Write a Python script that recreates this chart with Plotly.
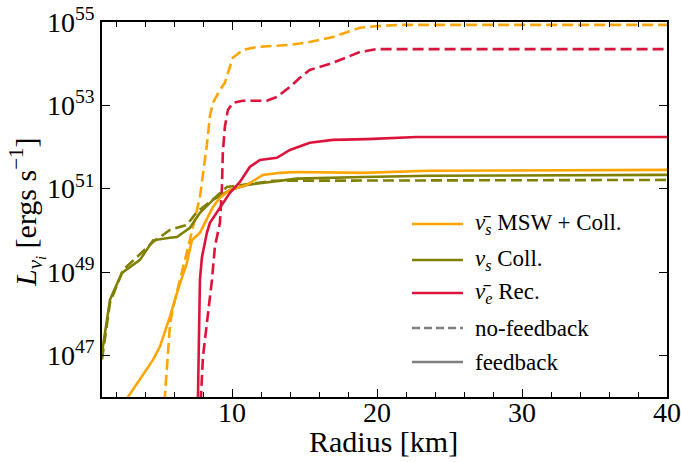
import plotly.graph_objects as go

# ---- data (Radius in km, log10 of luminosity in ergs/s) ----
msw_fb_r   = [2.5, 2.79, 4.31, 4.52, 5.0, 5.69, 6.24, 6.86, 7.21, 7.76, 8.1, 8.66, 9.14, 9.83, 11.0, 12.1, 13.28, 14.45, 19.0, 23.6, 40.0]
msw_fb_l   = [45.85, 46.0, 46.77, 46.89, 47.21, 47.93, 48.57, 49.22, 49.77, 49.94, 50.18, 50.56, 50.78, 50.97, 51.09, 51.33, 51.38, 51.40, 51.38, 51.43, 51.45]

msw_nf_r   = [5.3, 5.34, 5.69, 5.9, 7.07, 7.76, 8.24, 8.45, 8.66, 9.14, 9.48, 10.03, 10.72, 11.69, 13.97, 15.34, 16.93, 18.8, 19.97, 21.55, 40.0]
msw_nf_l   = [45.5, 46.0, 47.73, 48.14, 49.77, 50.80, 52.05, 52.75, 53.06, 53.37, 53.54, 54.14, 54.33, 54.40, 54.45, 54.52, 54.64, 54.86, 54.90, 54.93, 54.93]

coll_fb_r  = [1.0, 1.34, 1.55, 1.76, 2.38, 3.62, 4.52, 5.69, 6.17, 7.07, 7.76, 8.66, 9.83, 11.0, 12.59, 14.45, 19.0, 23.6, 40.0]
coll_fb_l  = [47.06, 47.85, 48.33, 48.5, 48.98, 49.29, 49.76, 49.82, 49.84, 50.06, 50.42, 50.73, 50.97, 51.09, 51.16, 51.24, 51.28, 51.31, 51.33]

coll_nf_r  = [1.0, 1.55, 2.45, 4.52, 5.69, 6.86, 7.55, 8.45, 9.62, 11.69, 12.8, 40.0]
coll_nf_l  = [46.9, 48.26, 49.05, 49.72, 50.01, 50.13, 50.44, 50.68, 51.04, 51.14, 51.19, 51.21]

rec_fb_r   = [7.6, 7.62, 7.69, 7.76, 7.9, 8.24, 8.45, 8.93, 9.28, 9.83, 10.52, 11.2, 11.9, 13.07, 13.97, 15.34, 16.93, 19.28, 22.7, 40.0]
rec_fb_l   = [45.5, 45.98, 46.72, 48.81, 49.36, 49.94, 50.18, 50.44, 50.61, 50.90, 51.16, 51.52, 51.69, 51.74, 51.93, 52.10, 52.17, 52.19, 52.24, 52.24]

rec_nf_r   = [7.8, 7.83, 7.97, 8.31, 8.59, 8.79, 9.14, 9.28, 9.34, 9.48, 9.69, 10.03, 10.72, 12.38, 13.07, 13.97, 14.66, 15.34, 16.93, 18.8, 19.97, 40.0]
rec_nf_l   = [45.5, 46.0, 46.97, 48.02, 48.81, 49.60, 50.18, 51.04, 51.86, 52.48, 52.89, 53.06, 53.11, 53.11, 53.2, 53.44, 53.66, 53.85, 54.02, 54.28, 54.35, 54.35]

legend_labels = ["<i>ν̄<sub>s</sub></i> MSW + Coll.", "<i>ν<sub>s</sub></i> Coll.", "<i>ν̄<sub>e</sub></i> Rec.",
                 "no-feedback", "feedback"]
x_tickvals = [10, 20, 30, 40]
y_tick_exps = [47, 49, 51, 53, 55]
x_title = "Radius [km]"
y_title = "<i>L</i><sub><i>ν</i><sub><i>i</i></sub></sub> [ergs s<sup>−1</sup>]"

ORANGE = "#FFA500"
OLIVE = "#808000"
RED = "#DC143C"
GREY = "#808080"
FONT = "Liberation Serif, DejaVu Serif, Times New Roman, serif"
W = 2.6
DASH = "11px,5px"

# plot-area geometry (pixels) used to place legend / labels
L, R, T, B = 102, 667, 22, 397
PW, PH = R - L, B - T

fig = go.Figure()

def add(r, l, color, dash):
    fig.add_trace(go.Scatter(x=r, y=[10.0 ** v for v in l], mode="lines",
                             line=dict(color=color, width=W, dash=dash),
                             showlegend=False, hoverinfo="skip"))

add(coll_nf_r, coll_nf_l, OLIVE, DASH)
add(msw_nf_r, msw_nf_l, ORANGE, DASH)
add(rec_nf_r, rec_nf_l, RED, DASH)
add(coll_fb_r, coll_fb_l, OLIVE, "solid")
add(msw_fb_r, msw_fb_l, ORANGE, "solid")
add(rec_fb_r, rec_fb_l, RED, "solid")

# legend drawn with shapes + annotations
leg_colors = [ORANGE, OLIVE, RED, GREY, GREY]
leg_dash = ["solid", "solid", "solid", "8px,4px", "solid"]
leg_y = [224, 260, 293, 328, 362]
for lab, c, d, py in zip(legend_labels, leg_colors, leg_dash, leg_y):
    yp = (B - py) / PH
    fig.add_shape(type="line", xref="paper", yref="paper",
                  x0=(412 - L) / PW, x1=(463 - L) / PW, y0=yp, y1=yp,
                  line=dict(color=c, width=W, dash=d))
    fig.add_annotation(xref="paper", yref="paper", x=(473 - L) / PW, y=yp,
                       xanchor="left", yanchor="middle", showarrow=False,
                       text=lab, font=dict(family=FONT, size=23, color="black"))

# x tick labels (placed on the x data scale) and axis titles
for v in x_tickvals:
    fig.add_annotation(xref="x", yref="paper", x=v, y=(B - 412) / PH,
                       xanchor="center", yanchor="middle", showarrow=False,
                       text=str(v), font=dict(family=FONT, size=28, color="black"))
fig.add_annotation(xref="paper", yref="paper", x=(383 - L) / PW, y=(B - 441) / PH,
                   xanchor="center", yanchor="middle", showarrow=False,
                   text=x_title, font=dict(family=FONT, size=30, color="black"))
fig.add_annotation(xref="paper", yref="paper", x=(27 - L) / PW, y=(B - 212) / PH,
                   xanchor="center", yanchor="middle", showarrow=False, textangle=-90,
                   text=y_title, font=dict(family=FONT, size=30, color="black"))

axis_common = dict(showline=True, linecolor="black", linewidth=1.5, mirror="allticks",
                   ticks="inside", tickcolor="black", tickwidth=1.2, ticklen=8,
                   showgrid=False, zeroline=False, automargin=False,
                   tickfont=dict(family=FONT, size=28, color="black"))

fig.update_xaxes(range=[1, 40], tickvals=x_tickvals, showticklabels=False,
                 minor=dict(ticks="inside", dtick=2, tick0=0, ticklen=5, tickcolor="black", tickwidth=1),
                 **axis_common)
fig.update_yaxes(type="log", range=[46, 55],
                 tickvals=[10.0 ** e for e in y_tick_exps],
                 ticktext=[f"10<sup>{e}</sup>" for e in y_tick_exps],
                 **axis_common)

fig.update_layout(
    width=681, height=462,
    margin=dict(l=L, r=681 - R, t=T, b=462 - B),
    plot_bgcolor="white", paper_bgcolor="white",
    showlegend=False,
)

fig.write_html("out.html")
